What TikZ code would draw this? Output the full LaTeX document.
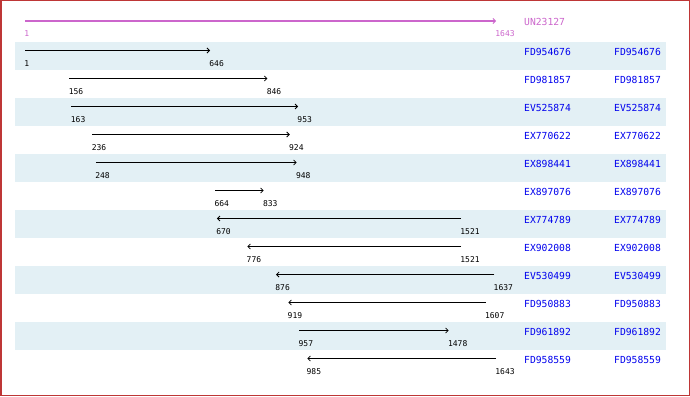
\documentclass[tikz,border=0pt]{standalone}
\usepackage{fontspec}
\setmonofont{DejaVu Sans Mono}
\usetikzlibrary{arrows.meta}
\definecolor{band}{HTML}{E3F0F5}
\definecolor{mag}{HTML}{CC66CC}
\definecolor{idblue}{HTML}{0000EE}
\definecolor{framecol}{HTML}{BE3636}
\begin{document}
\begin{tikzpicture}[x=1pt,y=-1pt,
  hit/.style={line width=0.9pt,-{Straight Barb[length=2.5pt,width=5pt,line width=0.8pt]}},
  num/.style={font=\ttfamily\fontsize{8}{8}\selectfont,anchor=west,inner sep=0pt},
  idl/.style={font=\ttfamily\fontsize{9.7}{10}\selectfont,text=idblue,anchor=west,inner sep=0pt}]
\useasboundingbox (0,0) rectangle (690,396);
\fill[white] (0,0) rectangle (690,396);
\foreach \i/\id/\a/\b/\d in {1/FD954676/1/646/1,2/FD981857/156/846/1,3/EV525874/163/953/1,4/EX770622/236/924/1,5/EX898441/248/948/1,6/EX897076/664/833/1,7/EX774789/670/1521/0,8/EX902008/776/1521/0,9/EV530499/876/1637/0,10/FD950883/919/1607/0,11/FD961892/957/1478/1,12/FD958559/985/1643/0}{
  \pgfmathsetmacro\top{42+28*(\i-1)}
  \ifodd\i \fill[band] (15,\top) rectangle (666,\top+28); \fi
  \coordinate (s\i) at ({25+(\a-1)*0.28685},\top+8.5);
  \coordinate (e\i) at ({25+(\b-1)*0.28685},\top+8.5);
  \ifnum\d=1 \draw[hit] (s\i) -- (e\i); \else \draw[hit] (e\i) -- (s\i); \fi
  \node[num] (ls\i) at ({25+(\a-1)*0.28685-0.8},\top+21.5) {\a};
  \node[num] (le\i) at ({25+(\b-1)*0.28685-0.8},\top+21.5) {\b};
  \node[idl] (id\i) at (524,\top+9.5) {\id};
  \node[idl] (idb\i) at (614,\top+9.5) {\id};
}
\coordinate (t0) at (25,21);
\coordinate (t1) at (496,21);
\draw[mag,line width=1.8pt,-{Straight Barb[length=2.5pt,width=5pt,line width=0.8pt]}] (t0) -- (t1);
\node[num,text=mag] (tl0) at (24.2,34) {1};
\node[num,text=mag] (tl1) at (495.2,34) {1643};
\node[idl,text=mag] (top) at (524,21.5) {UN23127};
\draw[framecol,line width=1.5pt] (0.75,0.75) rectangle (689.25,395.25);
\end{tikzpicture}
\end{document}
